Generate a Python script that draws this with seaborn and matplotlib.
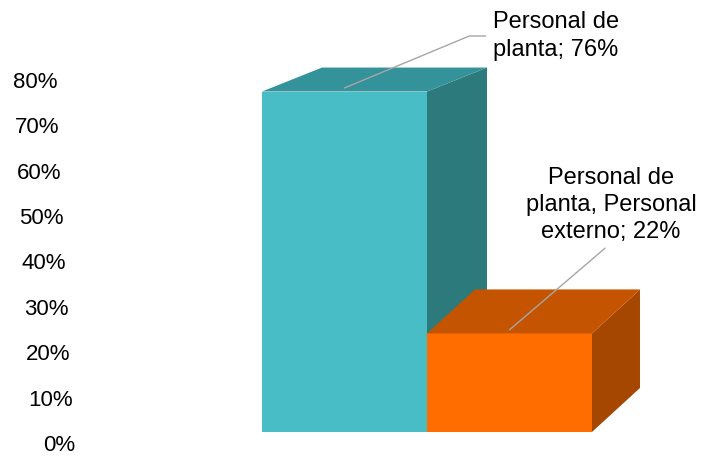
import matplotlib
matplotlib.use("Agg")
import numpy as np
import pandas as pd
import seaborn as sns
import matplotlib.pyplot as plt
from matplotlib.patches import Polygon
from matplotlib.transforms import ScaledTranslation

# ---- data ----
categories = ["Personal de planta", "Personal de planta, Personal externo"]
values = [0.76, 0.22]
label_texts = ["Personal de\nplanta; 76%", "Personal de\nplanta, Personal\nexterno; 22%"]
tick_values = [0.0, 0.1, 0.2, 0.3, 0.4, 0.5, 0.6, 0.7, 0.8]
tick_labels = ["0%", "10%", "20%", "30%", "40%", "50%", "60%", "70%", "80%"]

# ---- style ----
front_colors = ["#48BDC6", "#FF6D00"]
top_colors = ["#34929A", "#C45400"]
side_colors = ["#2C7A7C", "#A64700"]
depth_px = [(60, 24), (48, 44)]  # 3D look: (right, up) offset in pixels
leader_color = "#A6A6A6"

sns.set_theme(style="white")
plt.rcParams["font.family"] = ["Liberation Sans", "DejaVu Sans"]

fig = plt.figure(figsize=(7.02, 4.66), dpi=100)
fig.patch.set_facecolor("white")
ax = fig.add_axes([0.3732, 0.073, 0.5641, 0.769])

df = pd.DataFrame({"cat": categories, "val": values})
sns.barplot(data=df, x="cat", y="val", hue="cat", palette=front_colors,
            width=1.0, saturation=1, legend=False, ax=ax, edgecolor="none")

ax.set_xlim(-0.5, 1.9)
ax.set_ylim(0, 0.8)
ax.set_yticks(tick_values)
ax.set_yticklabels(tick_labels)
ax.set_xticks([])
ax.set_xlabel("")
ax.set_ylabel("")
sns.despine(ax=ax, left=True, bottom=True)
ax.tick_params(axis="y", length=0, pad=134.6, labelsize=16, labelcolor="black")
for i, lab in enumerate(ax.get_yticklabels()):
    lab.set_transform(lab.get_transform() +
                      ScaledTranslation(-2.25 * i / 100, -(11 - 0.6 * i) / 100,
                                        fig.dpi_scale_trans))

# 3D faces derived from the seaborn bars
sx = ax.bbox.width / (ax.get_xlim()[1] - ax.get_xlim()[0])
sy = ax.bbox.height / (ax.get_ylim()[1] - ax.get_ylim()[0])
bars = sorted(list(ax.patches), key=lambda r: r.get_x())
centers = []
for i, p in enumerate(bars):
    x0, w, h = p.get_x(), p.get_width(), p.get_height()
    x1 = x0 + w
    ddx, ddy = depth_px[i][0] / sx, depth_px[i][1] / sy
    p.set_zorder(2 + i)
    side = Polygon([(x1, 0), (x1, h), (x1 + ddx, h + ddy), (x1 + ddx, ddy)],
                   closed=True, facecolor=side_colors[i], edgecolor="none",
                   zorder=2 + i, clip_on=False)
    top = Polygon([(x0, h), (x1, h), (x1 + ddx, h + ddy), (x0 + ddx, h + ddy)],
                  closed=True, facecolor=top_colors[i], edgecolor="none",
                  zorder=2 + i, clip_on=False)
    ax.add_patch(side)
    ax.add_patch(top)
    centers.append((x0 + w / 2, h))

# data labels with leader lines
ax.annotate(label_texts[0], xy=(centers[0][0], centers[0][1] + 0.008), xycoords="data",
            xytext=(493, 430), textcoords="figure pixels", ha="left", va="center",
            fontsize=17, color="black", zorder=10, annotation_clip=False,
            linespacing=1.35,
            arrowprops=dict(arrowstyle="-", color=leader_color, lw=1, shrinkA=3, shrinkB=0,
                            relpos=(0, 0.5),
                            connectionstyle="angle,angleA=0,angleB=22.6,rad=0"))
ax.annotate(label_texts[1], xy=(centers[1][0], centers[1][1] + 0.008), xycoords="data",
            xytext=(611, 261), textcoords="figure pixels", ha="center", va="center",
            multialignment="center", fontsize=17, color="black", zorder=10,
            annotation_clip=False, linespacing=1.3,
            arrowprops=dict(arrowstyle="-", color=leader_color, lw=1, shrinkA=2, shrinkB=0,
                            relpos=(0.5, 0)))

fig.savefig("out.png", dpi=100, facecolor="white")
